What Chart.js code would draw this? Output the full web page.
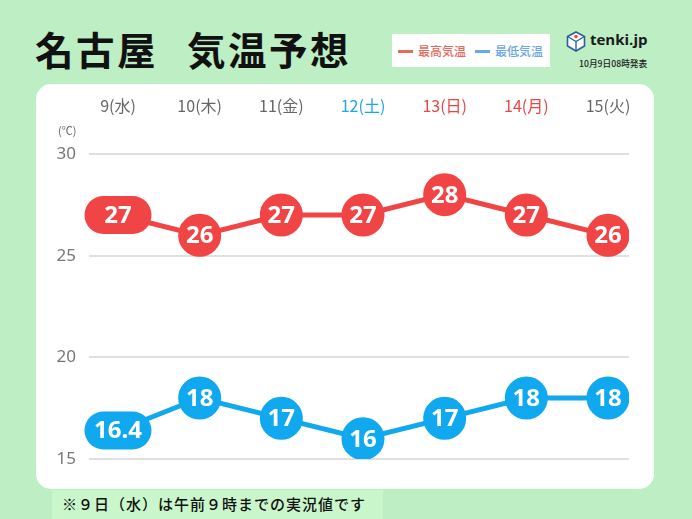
<!DOCTYPE html>
<html>
<head>
<meta charset="utf-8">
<script src="https://cdn.jsdelivr.net/npm/chart.js@4"></script>
<style>
html, body { margin: 0; padding: 0; }
body { width: 692px; height: 519px; background: #bdeec4; overflow: hidden; position: relative; font-family: "Noto Sans CJK JP", sans-serif; }
#panel { position: absolute; left: 36px; top: 84px; width: 618px; height: 405px; background: #fff; border-radius: 15px; }
#chart { position: absolute; left: 0; top: 0; }
.txt { position: absolute; white-space: nowrap; line-height: 1; }
.title { top: 29px; font-size: 38.5px; font-weight: 700; letter-spacing: 2.5px; color: #111; }
#legendBox { position: absolute; left: 392px; top: 34px; width: 158px; height: 33px; background: #fff; }
.legLine { position: absolute; top: 50px; width: 15px; height: 3px; }
.legTxt { top: 45px; font-size: 12px; font-weight: 500; }
#logoTxt { left: 590px; top: 32px; font-size: 15px; font-weight: 700; color: #1a1a1a; font-family: "Open Sans", sans-serif; }
#issued { left: 579px; top: 60px; font-size: 8.7px; font-weight: 500; color: #222; }
#logo { position: absolute; left: 566px; top: 31px; }
#unit { left: 58px; top: 125px; font-size: 11px; color: #666; }
#note { position: absolute; left: 52px; top: 490px; width: 331px; height: 29px; background: #c9f6cb; }
#noteTxt { left: 62px; top: 496px; font-size: 15px; font-weight: 500; color: #111; letter-spacing: 1px; }
</style>
</head>
<body>
<div id="panel"></div>
<div class="txt title" style="left:35px">名古屋</div>
<div class="txt title" style="left:187px">気温予想</div>
<div id="legendBox"></div>
<div class="legLine" style="left:398px;background:#e6695d"></div>
<div class="txt legTxt" id="legHigh" style="left:418px;color:#e6695d"></div>
<div class="legLine" style="left:475px;background:#6aa8e6"></div>
<div class="txt legTxt" id="legLow" style="left:495px;color:#6aa8e6"></div>
<svg id="logo" width="20" height="21" viewBox="0 0 20 21">
	<path d="M10 1 L18.5 5.5 L18.5 15 L10 20 L1.5 15 L1.5 5.5 Z" fill="#fff" stroke="#2d5f9e" stroke-width="1.6"/>
	<path d="M10 10.5 L18.5 5.5 M10 10.5 L1.5 5.5 M10 10.5 L10 20" stroke="#2d5f9e" stroke-width="1.4"/>
	<circle cx="10" cy="5.6" r="1.8" fill="#e8503f"/>
</svg>
<div class="txt" id="logoTxt">tenki.jp</div>
<div class="txt" id="issued">10月9日08時発表</div>
<canvas id="chart" width="692" height="519"></canvas>
<div class="txt" id="unit">(℃)</div>
<div id="note"></div>
<div class="txt" id="noteTxt">※９日（水）は午前９時までの実況値です</div>

<script>
var days = ['9(水)', '10(木)', '11(金)', '12(土)', '13(日)', '14(月)', '15(火)'];
var dayColors = ['#666666', '#666666', '#666666', '#1ba6e6', '#e94545', '#e94545', '#666666'];
var highTemps = [27, 26, 27, 27, 28, 27, 26];
var lowTemps = [16.4, 18, 17, 16, 17, 18, 18];
var highName = '最高気温';
var lowName = '最低気温';
var yTicks = [15, 20, 25, 30];

document.getElementById('legHigh').textContent = highName;
document.getElementById('legLow').textContent = lowName;

var RED = '#f14444';
var BLUE = '#10a8ee';

function toPoints(values) {
	return values.map(function (v, i) { return { x: i, y: v }; });
}

// First point of each series is a pill instead of a circle
function pointSize(c) {
	return c.dataIndex === 0 ? 0 : 19;
}

var valueLabels = {
	id: 'valueLabels',
	afterDatasetsDraw: function (chart) {
		var ctx = chart.ctx;
		chart.data.datasets.forEach(function (ds, d) {
			chart.getDatasetMeta(d).data.forEach(function (pt, i) {
				ctx.save();
				if (i === 0) {
					ctx.fillStyle = ds.borderColor;
					ctx.beginPath();
					ctx.roundRect(pt.x - 33.5, pt.y - 19, 67, 38, 19);
					ctx.fill();
				}
				ctx.fillStyle = '#fff';
				ctx.font = '700 24px "Noto Sans", sans-serif';
				ctx.textAlign = 'center';
				ctx.textBaseline = 'middle';
				ctx.fillText(String(ds.data[i].y), pt.x, pt.y + 1);
				ctx.restore();
			});
		});
	}
};

new Chart(document.getElementById('chart'), {
	type: 'line',
	data: {
		datasets: [
			{
				label: highName,
				data: toPoints(highTemps),
				borderColor: RED,
				backgroundColor: RED,
				borderWidth: 5,
				pointRadius: pointSize,
				lineTension: 0
			},
			{
				label: lowName,
				data: toPoints(lowTemps),
				borderColor: BLUE,
				backgroundColor: BLUE,
				borderWidth: 5,
				pointRadius: pointSize,
				lineTension: 0
			}
		]
	},
	options: {
		responsive: false,
		animation: false,
		layout: { padding: { left: 0, right: 63, top: 0, bottom: 60 } },
		plugins: { legend: { display: false }, tooltip: { enabled: false } },
		elements: { point: { borderWidth: 0 } },
		scales: {
			x: {
				type: 'linear',
				position: 'top',
				min: -0.355,
				max: 6.257,
				grid: { display: false },
				border: { display: false },
				afterBuildTicks: function (scale) {
					scale.ticks = days.map(function (d, i) { return { value: i }; });
				},
				afterFit: function (scale) { scale.height = 154; },
				ticks: {
					autoSkip: false,
					maxRotation: 0,
					padding: 30,
					font: { family: '"Noto Sans CJK JP", sans-serif', size: 16 },
					color: function (c) { return dayColors[c.index]; },
					callback: function (v) { return days[v]; }
				}
			},
			y: {
				min: 15,
				max: 30,
				grid: { color: '#e0e0e0', lineWidth: 2, drawTicks: false },
				border: { display: false },
				afterBuildTicks: function (scale) {
					scale.ticks = yTicks.map(function (v) { return { value: v }; });
				},
				afterFit: function (scale) { scale.width = 89; },
				ticks: {
					padding: 13,
					font: { family: '"Noto Sans", sans-serif', size: 17 },
					color: '#777777'
				}
			}
		}
	},
	plugins: [valueLabels]
});
</script>
</body>
</html>
